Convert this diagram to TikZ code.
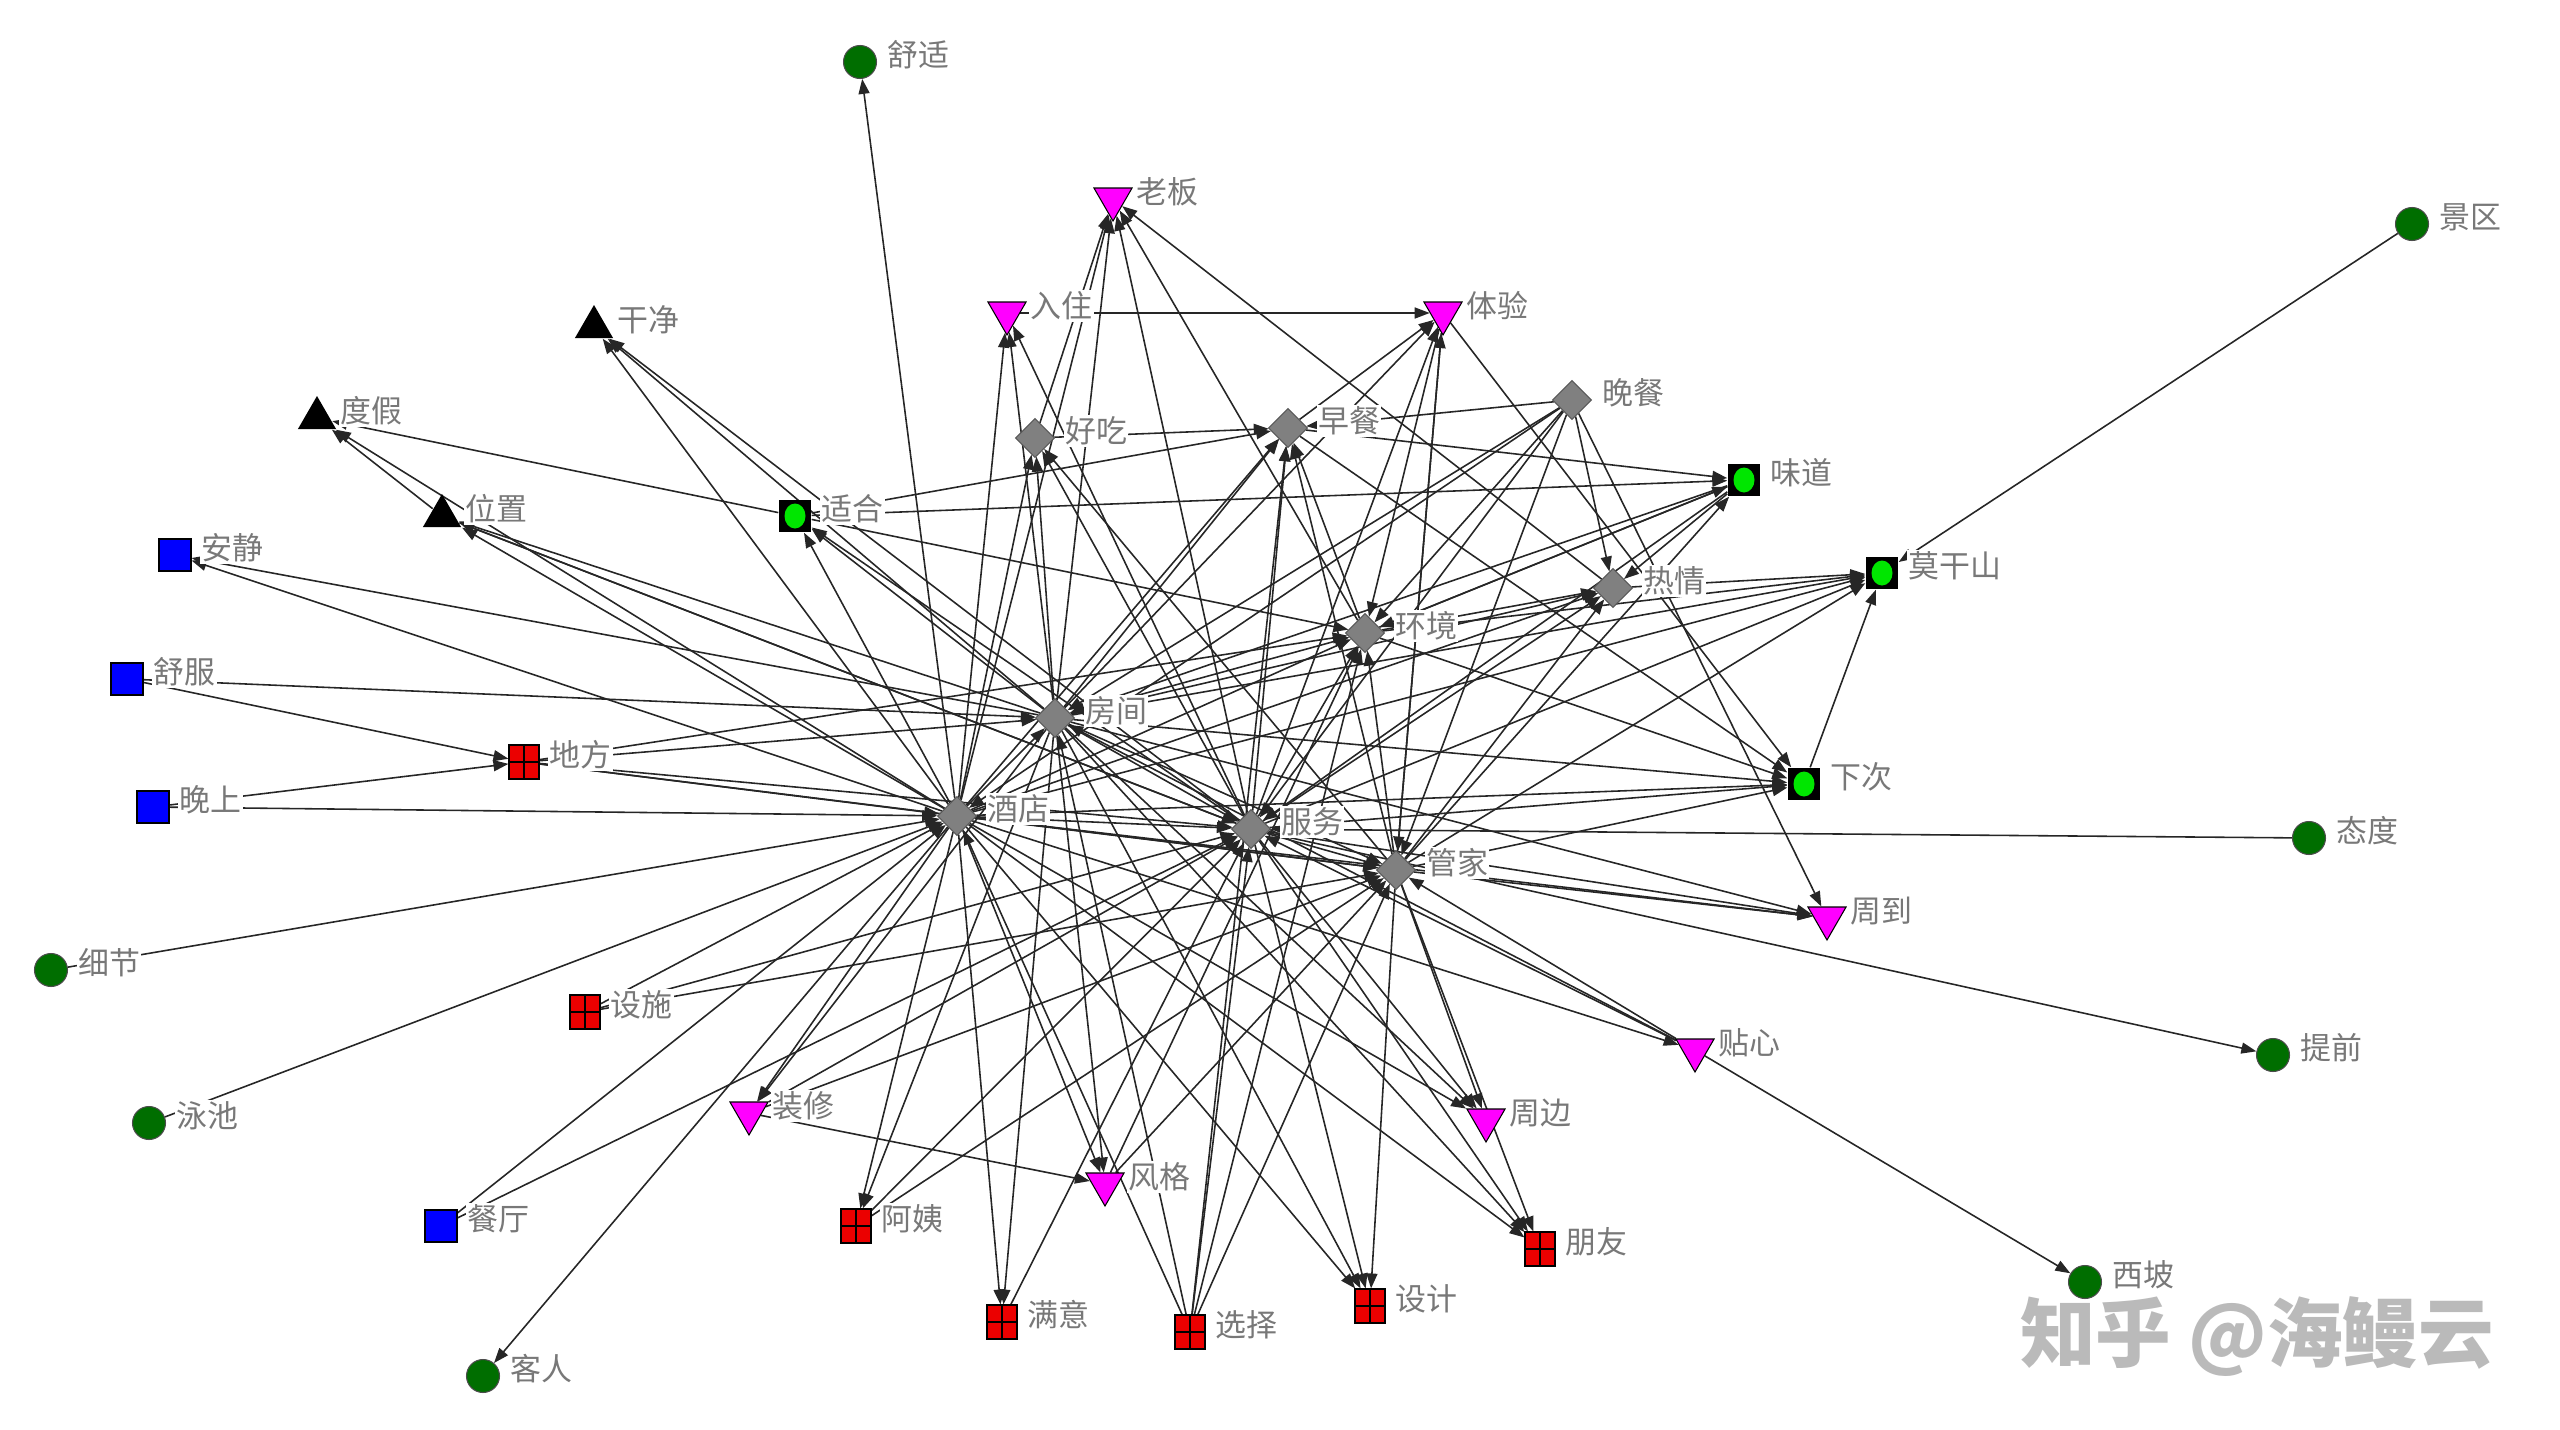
\documentclass[tikz,border=0pt]{standalone}
\usepackage{fontspec}
\newfontfamily\cjk{Noto Sans CJK SC}
\usepackage{tikz}
\usetikzlibrary{arrows.meta,shapes.geometric,backgrounds}
\definecolor{ndgreen}{RGB}{0,110,0}
\definecolor{ndlime}{RGB}{0,230,0}
\definecolor{ndpink}{RGB}{255,0,255}
\definecolor{ndgray}{RGB}{128,128,128}
\definecolor{ndblue}{RGB}{0,0,255}
\definecolor{ndred}{RGB}{235,0,0}
\definecolor{labgray}{RGB}{120,120,120}

\begin{document}
\begin{tikzpicture}[
  x=0.1mm, y=-0.1mm,
  circ/.style={circle,fill=ndgreen,draw=black!70,line width=0.3pt,inner sep=0pt,minimum size=3.3mm},
  tri/.style={regular polygon,regular polygon sides=3,fill=black,inner sep=0pt,minimum size=4.4mm},
  down/.style={regular polygon,regular polygon sides=3,shape border rotate=180,fill=ndpink,
               draw=black,line width=0.3pt,inner sep=0pt,minimum size=4.4mm},
  sq/.style={rectangle,fill=ndblue,draw=black,line width=0.3pt,inner sep=0pt,minimum size=3.2mm},
  dia/.style={diamond,fill=ndgray,draw=gray!70!black,line width=0.3pt,inner sep=0pt,minimum size=3.9mm},
  grid/.style={rectangle,fill=ndred,draw=black,line width=0.3pt,inner sep=0pt,
               minimum width=3mm,minimum height=3.4mm,
               path picture={\draw[line width=0.3pt]
                 (path picture bounding box.north) -- (path picture bounding box.south)
                 (path picture bounding box.west) -- (path picture bounding box.east);}},
  gbox/.style={rectangle,fill=black,inner sep=0pt,minimum size=3.2mm,
               path picture={\fill[ndlime] (path picture bounding box.center) ellipse (1.05mm and 1.25mm);}},
  lab/.style={font=\cjk\fontsize{8.8}{10}\selectfont,text=labgray,fill=white,inner sep=0.4pt,yshift=0.7mm},
  arr/.style={-{Triangle[length=1.5mm,width=1.1mm]},line width=0.45pt,black!85},
  label distance=0.8mm
]
\useasboundingbox (0,0) rectangle (2560,1430);

% hubs
\node[dia,label={[lab]right:酒店}] (jiudian) at (957,816) {};
\node[dia,label={[lab]right:房间}] (fangjian) at (1055,718) {};
\node[dia,label={[lab]right:服务}] (fuwu) at (1251,829) {};
\node[dia,label={[lab]right:管家}] (guanjia) at (1396,870) {};
\node[dia,label={[lab]right:环境}] (huanjing) at (1365,633) {};
\node[dia,label={[lab]right:早餐}] (zaocan) at (1288,428) {};
\node[dia,label={[lab]right:好吃}] (haochi) at (1035,438) {};
\node[dia,label={[lab]right:晚餐}] (wancan) at (1572,400) {};
\node[dia,label={[lab]right:热情}] (reqing) at (1613,588) {};

% green boxes
\node[gbox,label={[lab]right:适合}] (shihe) at (795,516) {};
\node[gbox,label={[lab]right:味道}] (weidao) at (1744,480) {};
\node[gbox,label={[lab]right:莫干山}] (moganshan) at (1882,573) {};
\node[gbox,label={[lab]right:下次}] (xiaci) at (1804,784) {};

% magenta
\node[down,label={[lab]right:老板}] (laoban) at (1113,199) {};
\node[down,label={[lab]right:入住}] (ruzhu) at (1007,313) {};
\node[down,label={[lab]right:体验}] (tiyan) at (1443,313) {};
\node[down,label={[lab]right:周到}] (zhoudao) at (1827,918) {};
\node[down,label={[lab]right:贴心}] (tiexin) at (1695,1050) {};
\node[down,label={[lab]right:装修}] (zhuangxiu) at (749,1113) {};
\node[down,label={[lab]right:周边}] (zhoubian) at (1486,1120) {};
\node[down,label={[lab]right:风格}] (fengge) at (1105,1184) {};

% black triangles
\node[tri,label={[lab]right:干净}] (ganjing) at (594,327) {};
\node[tri,label={[lab]right:度假}] (dujia) at (317,418) {};
\node[tri,label={[lab]right:位置}] (weizhi) at (442,516) {};

% blue
\node[sq,label={[lab]right:安静}] (anjing) at (175,555) {};
\node[sq,label={[lab]right:舒服}] (shufu) at (127,679) {};
\node[sq,label={[lab]right:晚上}] (wanshang) at (153,807) {};
\node[sq,label={[lab]right:餐厅}] (canting) at (441,1226) {};

% red
\node[grid,label={[lab]right:地方}] (difang) at (524,762) {};
\node[grid,label={[lab]right:设施}] (sheshi) at (585,1012) {};
\node[grid,label={[lab]right:阿姨}] (ayi) at (856,1226) {};
\node[grid,label={[lab]right:朋友}] (pengyou) at (1540,1249) {};
\node[grid,label={[lab]right:设计}] (sheji) at (1370,1306) {};
\node[grid,label={[lab]right:满意}] (manyi) at (1002,1322) {};
\node[grid,label={[lab]right:选择}] (xuanze) at (1190,1332) {};

% dark green
\node[circ,label={[lab]right:舒适}] (shushi) at (860,62) {};
\node[circ,label={[lab]right:景区}] (jingqu) at (2412,224) {};
\node[circ,label={[lab]right:态度}] (taidu) at (2309,838) {};
\node[circ,label={[lab]right:细节}] (xijie) at (51,970) {};
\node[circ,label={[lab]right:提前}] (tiqian) at (2273,1055) {};
\node[circ,label={[lab]right:泳池}] (yongchi) at (149,1123) {};
\node[circ,label={[lab]right:西坡}] (xipo) at (2085,1282) {};
\node[circ,label={[lab]right:客人}] (keren) at (483,1376) {};

\node[font=\cjk\bfseries\fontsize{21.5}{24}\selectfont,text=black!27] (mark) at (2257,1337) {知乎 @海鳗云};

% edges
\begin{scope}[on background layer]
\foreach \t in {shushi,ganjing,weizhi,anjing,shihe,ruzhu,laoban,haochi,zaocan,huanjing,fangjian,fuwu,
                guanjia,xiaci,zhoudao,moganshan,keren,zhuangxiu,ayi,manyi,sheji,pengyou,zhoubian,fengge,
                tiexin,reqing,dujia}
  \draw[arr] (jiudian) -- (\t);
\foreach \t in {ganjing,weizhi,anjing,shihe,ruzhu,laoban,haochi,zaocan,huanjing,fuwu,guanjia,xiaci,
                moganshan,zhuangxiu,fengge,ayi,manyi,sheji,pengyou,zhoubian,zhoudao,reqing,tiyan}
  \draw[arr] (fangjian) -- (\t);
\foreach \t in {ganjing,laoban,haochi,zaocan,huanjing,guanjia,xiaci,moganshan,zhoudao,sheji,pengyou,
                zhoubian,tiqian,reqing,shihe,weizhi,tiyan,ruzhu}
  \draw[arr] (fuwu) -- (\t);
\foreach \t in {zhoudao,zhoubian,xiaci,moganshan,huanjing,zaocan,reqing,tiyan,sheji,pengyou,weidao,haochi}
  \draw[arr] (guanjia) -- (\t);
\foreach \t in {laoban,zaocan,reqing,moganshan,xiaci,weidao}
  \draw[arr] (huanjing) -- (\t);
\foreach \t in {zaocan,reqing,huanjing,zhoudao,fangjian,jiudian,fuwu,guanjia}
  \draw[arr] (wancan) -- (\t);
\foreach \t in {fangjian,fuwu,huanjing,reqing}
  \draw[arr] (weidao) -- (\t);
\foreach \t in {huanjing,guanjia,xiaci}
  \draw[arr] (tiyan) -- (\t);
\foreach \t in {jiudian,fangjian,fuwu,guanjia,huanjing,zaocan}
  \draw[arr] (xuanze) -- (\t);
\foreach \t in {fangjian,jiudian,huanjing,fuwu,guanjia}
  \draw[arr] (difang) -- (\t);
\foreach \t in {guanjia,fuwu,fangjian,xipo}
  \draw[arr] (tiexin) -- (\t);
\foreach \t in {dujia,zaocan,huanjing,weidao}
  \draw[arr] (shihe) -- (\t);
\draw[arr] (haochi) -- (zaocan);
\draw[arr] (haochi) -- (laoban);
\draw[arr] (zaocan) -- (tiyan);
\draw[arr] (zaocan) -- (weidao);
\draw[arr] (zaocan) -- (xiaci);
\draw[arr] (ruzhu) -- (tiyan);
\draw[arr] (reqing) -- (laoban);
\draw[arr] (reqing) -- (moganshan);
\draw[arr] (xiaci) -- (moganshan);
\draw[arr] (jingqu) -- (moganshan);
\draw[arr] (taidu) -- (fuwu);
\draw[arr] (xijie) -- (jiudian);
\draw[arr] (yongchi) -- (jiudian);
\draw[arr] (wanshang) -- (jiudian);
\draw[arr] (wanshang) -- (difang);
\draw[arr] (shufu) -- (difang);
\draw[arr] (shufu) -- (fangjian);
\draw[arr] (sheshi) -- (fuwu);
\draw[arr] (sheshi) -- (guanjia);
\draw[arr] (sheshi) -- (jiudian);
\draw[arr] (canting) -- (jiudian);
\draw[arr] (canting) -- (fuwu);
\draw[arr] (ayi) -- (fuwu);
\draw[arr] (ayi) -- (guanjia);
\draw[arr] (manyi) -- (fuwu);
\draw[arr] (zhuangxiu) -- (fengge);
\draw[arr] (zhuangxiu) -- (fuwu);
\draw[arr] (zhuangxiu) -- (guanjia);
\draw[arr] (fengge) -- (guanjia);
\draw[arr] (fengge) -- (huanjing);
\draw[arr] (weizhi) -- (dujia);
\draw[arr] (weizhi) -- (fuwu);
\end{scope}
\end{tikzpicture}
\end{document}
